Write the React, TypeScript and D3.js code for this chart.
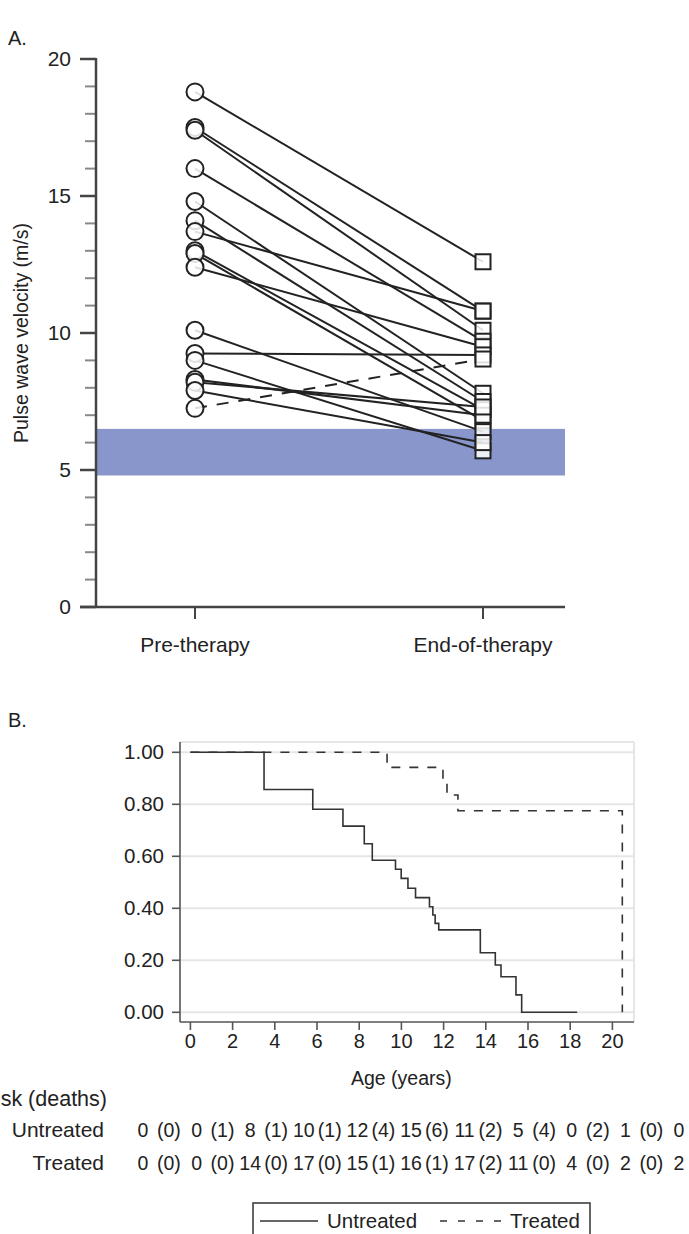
import React from 'react';
import * as d3 from 'd3';

// ---------- Panel A data ----------
const categoriesA = ['Pre-therapy', 'End-of-therapy'];
const preValues = [18.8, 17.5, 17.4, 16.0, 14.8, 14.1, 13.7, 13.0, 12.9, 12.4, 10.1, 9.25, 9.0, 8.3, 8.2, 7.9, 7.25];
const postValues = [12.6, 10.8, 10.1, 9.7, 7.8, 7.5, 10.8, 7.2, 6.8, 9.5, 6.4, 9.2, 5.7, 7.0, 7.3, 6.0, 9.05];
const dashedSubjects = [16];
const normalBand = [4.8, 6.5];
const yMajorTicksA = [0, 5, 10, 15, 20];
const yMinorTicksA = d3.range(0, 21, 1);

// ---------- Panel B data ----------
const untreatedTime = [0, 3.49, 5.8, 7.23, 8.24, 8.62, 9.72, 9.99, 10.31, 10.67, 11.33, 11.49, 11.6, 11.77, 13.74, 14.45, 14.72, 15.43, 15.7, 18.33];
const untreatedSurv = [1, 0.857, 0.781, 0.716, 0.648, 0.585, 0.55, 0.515, 0.477, 0.441, 0.406, 0.374, 0.342, 0.317, 0.229, 0.182, 0.137, 0.067, 0, 0];
const treatedTime = [0, 9.32, 11.97, 12.16, 12.68, 20.47];
const treatedSurv = [1, 0.942, 0.893, 0.836, 0.775, 0];
const yTicksB = [0, 0.2, 0.4, 0.6, 0.8, 1.0];
const xTicksB = [0, 2, 4, 6, 8, 10, 12, 14, 16, 18, 20];
const riskGroups = ['Untreated', 'Treated'];
const untreatedAtRisk = [0, 0, 8, 10, 12, 15, 11, 5, 0, 1, 0];
const untreatedDeaths = [0, 1, 1, 1, 4, 6, 2, 4, 2, 0];
const treatedAtRisk = [0, 0, 14, 17, 15, 16, 17, 11, 4, 2, 2];
const treatedDeaths = [0, 0, 0, 0, 1, 1, 2, 0, 0, 0];

const FONT = '"Liberation Sans", Arial, Helvetica, sans-serif';
const INK = '#222';

export default function App() {
  // Panel A scales
  const yA = d3.scaleLinear().domain([0, 20]).range([607, 59]);
  const xA = d3.scalePoint<string>().domain(categoriesA).range([195, 483]);
  const axisLeftA = 96;
  const plotRightA = 565;

  // Panel B scales
  const xB = d3.scaleLinear().domain([0, 20]).range([190.4, 612.4]);
  const yB = d3.scaleLinear().domain([0, 1]).range([1012.3, 752.3]);
  const leftB = 180, rightB = 634, topB = 742, bottomB = 1022;

  const step = d3.line<[number, number]>()
    .x(d => xB(d[0]))
    .y(d => yB(d[1]))
    .curve(d3.curveStepAfter);

  const untreatedPts: [number, number][] = untreatedTime.map((t, i) => [t, untreatedSurv[i]]);
  const treatedPts: [number, number][] = treatedTime.map((t, i) => [t, treatedSurv[i]]);

  const colX = d3.scaleLinear().domain([0, 10]).range([133, 669]);
  const riskRows = [
    { name: riskGroups[0], atRisk: untreatedAtRisk, deaths: untreatedDeaths, y: 1137 },
    { name: riskGroups[1], atRisk: treatedAtRisk, deaths: treatedDeaths, y: 1170 },
  ];

  const sq = 15;

  return (
    <svg width={689} height={1234} style={{ position: 'absolute', left: 0, top: 0, background: '#fff' }}
      fontFamily={FONT}>
      <rect x={0} y={0} width={689} height={1234} fill="#fff" />
      {/* ================= Panel A ================= */}
      <text x={8} y={45} fontSize={20} fill={INK}>A.</text>

      {/* reference band */}
      <rect x={axisLeftA} y={yA(normalBand[1])} width={plotRightA - axisLeftA}
        height={yA(normalBand[0]) - yA(normalBand[1])} fill="#8896cb" />

      {/* minor ticks */}
      {yMinorTicksA.filter(v => v % 5 !== 0).map(v => (
        <line key={'mn' + v} x1={85} x2={axisLeftA} y1={yA(v)} y2={yA(v)} stroke="#888" strokeWidth={2} />
      ))}
      {yMajorTicksA.map(v => (
        <g key={'mj' + v}>
          <line x1={80} x2={axisLeftA} y1={yA(v)} y2={yA(v)} stroke="#444" strokeWidth={2.5} />
          <text x={71} y={yA(v)} dy="0.35em" textAnchor="end" fontSize={21} fill={INK}>{v}</text>
        </g>
      ))}
      <line x1={axisLeftA} x2={axisLeftA} y1={yA(20) - 1} y2={yA(0)} stroke="#444" strokeWidth={2.5} />
      <line x1={80} x2={plotRightA} y1={yA(0)} y2={yA(0)} stroke="#444" strokeWidth={2.5} />
      {categoriesA.map(c => (
        <g key={c}>
          <line x1={xA(c)} x2={xA(c)} y1={yA(0)} y2={619} stroke="#444" strokeWidth={2} />
          <text x={xA(c)} y={652} textAnchor="middle" fontSize={21} fill={INK}>{c}</text>
        </g>
      ))}
      <text transform={`translate(28,333) rotate(-90)`} textAnchor="middle" fontSize={19.5} fill={INK}>
        Pulse wave velocity (m/s)
      </text>

      {/* connecting lines */}
      {preValues.map((p, i) => (
        <line key={'l' + i} x1={xA(categoriesA[0])} y1={yA(p)} x2={xA(categoriesA[1])} y2={yA(postValues[i])}
          stroke={INK} strokeWidth={2}
          strokeDasharray={dashedSubjects.includes(i) ? '12,10' : undefined} />
      ))}
      {/* markers */}
      {preValues.map((p, i) => (
        <circle key={'c' + i} cx={xA(categoriesA[0])} cy={yA(p)} r={8.5} fill="#fff" fillOpacity={0.85}
          stroke={INK} strokeWidth={2} />
      ))}
      {postValues.map((p, i) => (
        <rect key={'s' + i} x={(xA(categoriesA[1]) as number) - sq / 2} y={yA(p) - sq / 2} width={sq} height={sq}
          fill="#fff" fillOpacity={0.85} stroke={INK} strokeWidth={2} />
      ))}

      {/* ================= Panel B ================= */}
      <text x={8} y={727} fontSize={20} fill={INK}>B.</text>

      {/* frame & grid */}
      <line x1={leftB} x2={rightB} y1={topB} y2={topB} stroke="#e6e6e6" strokeWidth={2} />
      <line x1={rightB} x2={rightB} y1={topB} y2={bottomB} stroke="#e6e6e6" strokeWidth={2} />
      {yTicksB.map(v => (
        <line key={'g' + v} x1={leftB} x2={rightB} y1={yB(v)} y2={yB(v)} stroke="#e6e6e6" strokeWidth={2} />
      ))}

      {/* curves */}
      <path d={step(treatedPts) || ''} fill="none" stroke="#333" strokeWidth={1.6} strokeDasharray="9,9" />
      <path d={step(untreatedPts) || ''} fill="none" stroke="#333" strokeWidth={1.6} />

      {/* axes */}
      <line x1={leftB} x2={leftB} y1={topB} y2={bottomB} stroke="#555" strokeWidth={1.6} />
      <line x1={leftB} x2={rightB} y1={bottomB} y2={bottomB} stroke="#555" strokeWidth={1.6} />
      {yTicksB.map(v => (
        <g key={'yt' + v}>
          <line x1={leftB - 8} x2={leftB} y1={yB(v)} y2={yB(v)} stroke="#555" strokeWidth={1.6} />
          <text x={164} y={yB(v)} dy="0.35em" textAnchor="end" fontSize={20.5} fill={INK}>{v.toFixed(2)}</text>
        </g>
      ))}
      {xTicksB.map(v => (
        <g key={'xt' + v}>
          <line x1={xB(v)} x2={xB(v)} y1={bottomB} y2={bottomB + 8} stroke="#555" strokeWidth={1.6} />
          <text x={xB(v)} y={1048} textAnchor="middle" fontSize={20} fill={INK}>{v}</text>
        </g>
      ))}
      <text x={xB(10)} y={1085} textAnchor="middle" fontSize={19.5} fill={INK}>Age (years)</text>

      {/* at-risk table */}
      <text x={107} y={1106} textAnchor="end" fontSize={21.5} fill={INK}>At risk (deaths)</text>
      {riskRows.map(r => (
        <g key={r.name}>
          <text x={104} y={r.y} textAnchor="end" fontSize={21} fill={INK}>{r.name}</text>
          {r.atRisk.map((n, i) => (
            <g key={i}>
              <text x={colX(i) + 10} y={r.y} textAnchor="middle" fontSize={19.5} fill={INK}>{n}</text>
              {i < r.deaths.length && (
                <text x={colX(i) + 24} y={r.y} fontSize={19.5} fill={INK}>({r.deaths[i]})</text>
              )}
            </g>
          ))}
        </g>
      ))}

      {/* legend */}
      <rect x={253} y={1203} width={337} height={45} fill="none" stroke="#333" strokeWidth={1.5} />
      <line x1={260} x2={318} y1={1221} y2={1221} stroke="#333" strokeWidth={1.5} />
      <text x={327} y={1228} fontSize={20.5} fill={INK}>{riskGroups[0]}</text>
      <line x1={440} x2={502} y1={1221} y2={1221} stroke="#333" strokeWidth={1.5} strokeDasharray="7,11" />
      <text x={510} y={1228} fontSize={20.5} fill={INK}>{riskGroups[1]}</text>
    </svg>
  );
}
